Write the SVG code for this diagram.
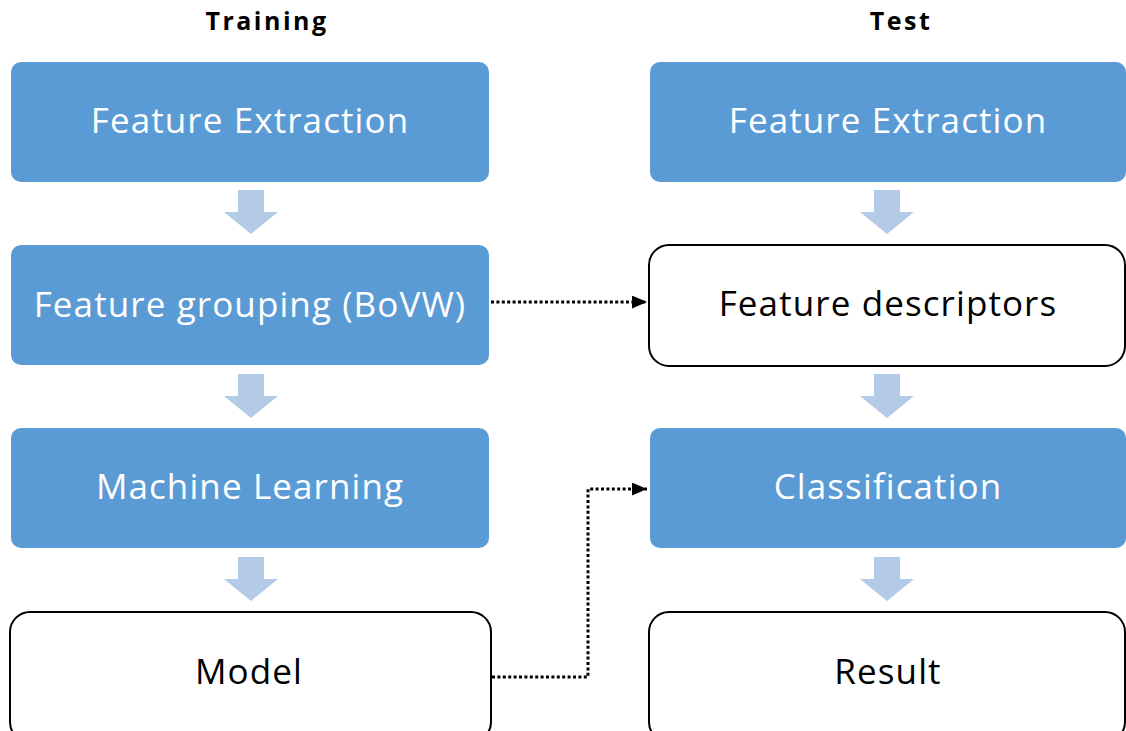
<svg xmlns="http://www.w3.org/2000/svg" width="1126" height="731" viewBox="0 0 1126 731">
  <style>
    .title { font-family: "Open Sans", "Liberation Sans", sans-serif; font-weight: 700; font-size: 25px; letter-spacing: 2.5px; fill: #000; text-anchor: middle; }
    .blue rect { fill: #5B9BD5; }
    .blue text { fill: #FFFFFF; }
    .plain rect { fill: #FFFFFF; stroke: #000; stroke-width: 2; }
    .plain text { fill: #000000; }
    .node text { font-family: "Open Sans", "Liberation Sans", sans-serif; font-size: 35px; letter-spacing: 1.1px; text-anchor: middle; }
    .step { fill: #B4CBE7; }
    .dotted { fill: none; stroke: #000; stroke-width: 3; stroke-dasharray: 3 2.4; }
  </style>
  <defs>
    <marker id="tri" markerWidth="15" markerHeight="13" refX="15" refY="6.5" orient="auto" markerUnits="userSpaceOnUse">
      <path d="M0,0 L15,6.5 L0,13 Z" fill="#000"/>
    </marker>
    <!-- block step arrow, origin at shaft top centre -->
    <path id="down" d="M-13,0 H13 V22 H27 L0,44 L-27,22 H-13 Z"/>
  </defs>

  <rect width="1126" height="731" fill="#FFFFFF"/>

  <text class="title" x="267" y="30">Training</text>
  <text class="title" x="901" y="30">Test</text>

  <!-- Training column -->
  <g id="train-extract" class="node blue">
    <rect x="11" y="62" width="478" height="120" rx="10"/>
    <text x="250" y="133">Feature Extraction</text>
  </g>
  <g id="train-group" class="node blue">
    <rect x="11" y="245" width="478" height="120" rx="10"/>
    <text x="250" y="317">Feature grouping (BoVW)</text>
  </g>
  <g id="train-learn" class="node blue">
    <rect x="11" y="428" width="478" height="120" rx="10"/>
    <text x="250" y="499">Machine Learning</text>
  </g>
  <g id="train-model" class="node plain">
    <rect x="10" y="612" width="481" height="130" rx="20"/>
    <text x="249" y="684">Model</text>
  </g>

  <!-- Test column -->
  <g id="test-extract" class="node blue">
    <rect x="650" y="62" width="476" height="120" rx="10"/>
    <text x="888" y="133">Feature Extraction</text>
  </g>
  <g id="test-descriptors" class="node plain">
    <rect x="649" y="245" width="476" height="121" rx="20"/>
    <text x="888" y="316">Feature descriptors</text>
  </g>
  <g id="test-classify" class="node blue">
    <rect x="650" y="428" width="476" height="120" rx="10"/>
    <text x="888" y="499">Classification</text>
  </g>
  <g id="test-result" class="node plain">
    <rect x="649" y="612" width="476" height="130" rx="20"/>
    <text x="888" y="684">Result</text>
  </g>

  <g id="connectors">
    <!-- step arrows within each column -->
    <use href="#down" class="step" x="251" y="190"/>
    <use href="#down" class="step" x="251" y="374"/>
    <use href="#down" class="step" x="251" y="557"/>
    <use href="#down" class="step" x="887" y="190"/>
    <use href="#down" class="step" x="887" y="374"/>
    <use href="#down" class="step" x="887" y="557"/>
    <!-- links from training into test -->
    <path class="dotted" d="M491,302 H647" marker-end="url(#tri)"/>
    <path class="dotted" d="M492,677 H588 V489 H647" marker-end="url(#tri)"/>
  </g>
</svg>
